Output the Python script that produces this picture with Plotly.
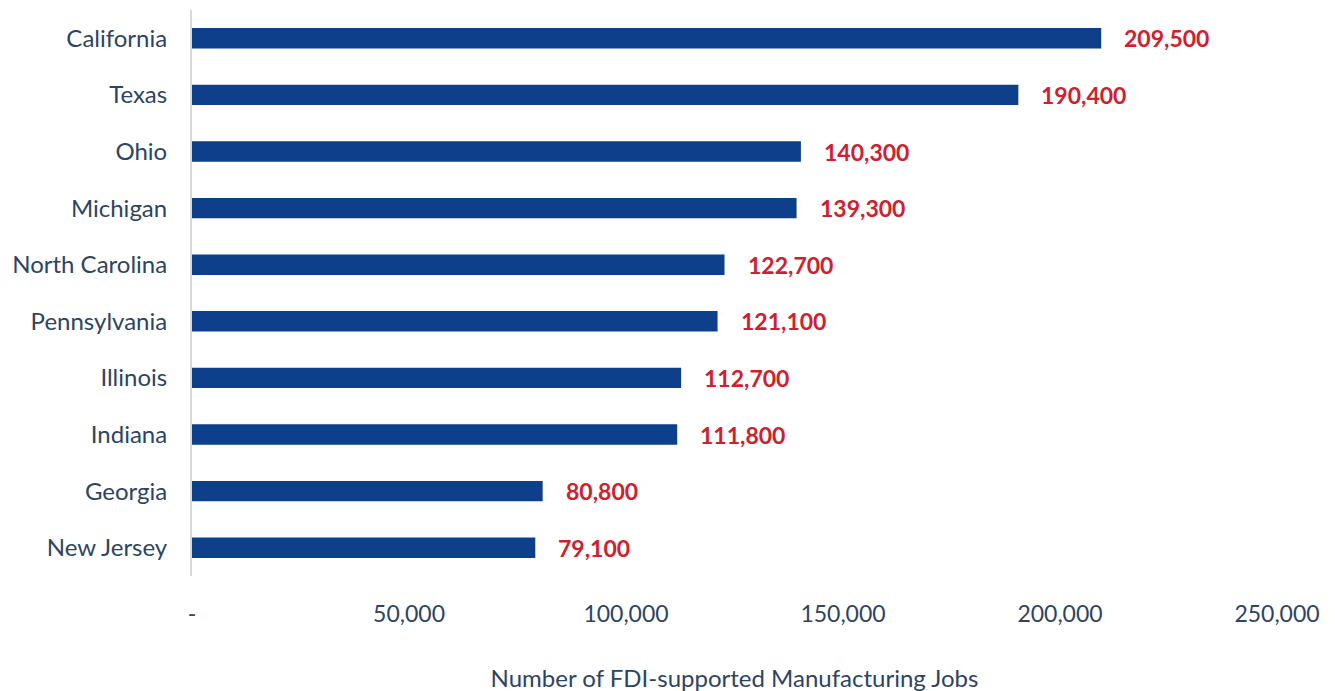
import plotly.graph_objects as go

states = ["California", "Texas", "Ohio", "Michigan", "North Carolina",
          "Pennsylvania", "Illinois", "Indiana", "Georgia", "New Jersey"]
jobs = [209500, 190400, 140300, 139300, 122700, 121100, 112700, 111800, 80800, 79100]
tick_vals = [0, 50000, 100000, 150000, 200000, 250000]
tick_text = ["-", "50,000", "100,000", "150,000", "200,000", "250,000"]

BAR = "#0E3F8A"
RED = "#D0202E"
TXT = "#2E4463"
FONT = "Lato"

fig = go.Figure()
fig.add_trace(go.Bar(
    x=jobs, y=states, orientation="h",
    marker=dict(color=BAR, line=dict(width=0)),
    width=0.36, hoverinfo="skip",
))

for s, v in zip(states, jobs):
    fig.add_annotation(
        x=v, y=s, text=f"<b>{v:,}</b>", showarrow=False,
        xanchor="left", yanchor="middle", xshift=21,
        font=dict(family=FONT, size=23, color=RED),
    )

fig.update_layout(
    width=1335, height=691,
    margin=dict(l=184, r=66, t=2, b=123, autoexpand=False),
    paper_bgcolor="white", plot_bgcolor="white",
    showlegend=False,
    font=dict(family=FONT, size=24, color=TXT),
    xaxis=dict(
        range=[0, 250000], tickvals=tick_vals, ticktext=tick_text,
        showgrid=False, zeroline=False, showline=False, ticks="",
        ticklabelstandoff=22, automargin=False,
        title=dict(text="Number of FDI-supported Manufacturing Jobs", standoff=44,
                   font=dict(family=FONT, size=24, color=TXT)),
        tickfont=dict(family=FONT, size=23, color=TXT),
    ),
    yaxis=dict(
        categoryorder="array", categoryarray=states[::-1],
        showgrid=False, zeroline=False, showline=True,
        linecolor="#D9D9D9", linewidth=2, ticks="",
        ticklabelstandoff=18, automargin=False,
        tickfont=dict(family=FONT, size=24, color=TXT),
    ),
)

fig.write_html("out.html")
